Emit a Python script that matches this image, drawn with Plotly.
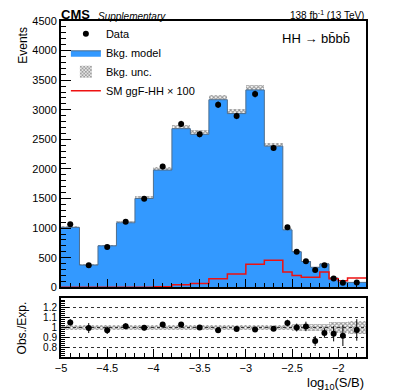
import plotly.graph_objects as go
from plotly.subplots import make_subplots

# bin edges in log10(S/B)
bin_edges = [-5.0, -4.8, -4.6, -4.4, -4.2, -4.0, -3.8, -3.6, -3.4, -3.2, -3.0,
             -2.8, -2.6, -2.5, -2.4, -2.3, -2.2, -2.1, -2.0, -1.9, -1.7]

bkg_model = [1012, 375, 700, 1090, 1500, 1980, 2680, 2585, 3170, 2935, 3335,
             2385, 970, 600, 435, 338, 394, 156, 85, 82]
bkg_rel_unc = [0.03, 0.03, 0.03, 0.028, 0.025, 0.025, 0.025, 0.025, 0.025, 0.025,
               0.025, 0.025, 0.03, 0.035, 0.035, 0.035, 0.035, 0.06, 0.06, 0.065]
data_obs = [1065, 373, 680, 1105, 1495, 2040, 2760, 2585, 3085, 2895, 3265,
            2355, 1015, 600, 440, 292, 372, 146, 78, 80]
data_err = [33, 19, 26, 33, 39, 45, 53, 51, 56, 54, 57, 49, 32, 24, 21, 17, 19, 12, 9, 9]
signal_x100 = [0, 0, 0, 0, 1, 8, 42, 65, 144, 222, 389, 456, 256, 200, 167, 167,
               256, 144, 111, 156]

FONT = "Liberation Sans"
BLUE = "#3399ff"

centers = [(lo + hi) / 2 for lo, hi in zip(bin_edges[:-1], bin_edges[1:])]
widths = [hi - lo for lo, hi in zip(bin_edges[:-1], bin_edges[1:])]
step_y = bkg_model + bkg_model[-1:]
sig_step = signal_x100 + signal_x100[-1:]
ratio = [d / b for d, b in zip(data_obs, bkg_model)]
ratio_err = [e / b for e, b in zip(data_err, bkg_model)]

fig = make_subplots(rows=2, cols=1, shared_xaxes=True, vertical_spacing=0.0,
                    row_heights=[0.79, 0.21])

hatch = dict(shape="x", fgcolor="#333333", bgcolor="rgba(0,0,0,0)", size=3,
             solidity=0.6, fillmode="overlay")

# --- top panel ---
fig.add_trace(go.Scatter(
    x=bin_edges, y=step_y, mode="lines", line=dict(shape="hv", color="#4f6f8f", width=1),
    fill="tozeroy", fillcolor=BLUE, name="Bkg. model", legendrank=2,
    legendgroup="b"), row=1, col=1)
fig.add_trace(go.Bar(
    x=centers, width=widths,
    base=[b * (1 - u) for b, u in zip(bkg_model, bkg_rel_unc)],
    y=[2 * b * u for b, u in zip(bkg_model, bkg_rel_unc)],
    marker=dict(color="rgba(0,0,0,0)", pattern=hatch, line=dict(width=0)),
    name="Bkg. unc.", legendrank=3, legendgroup="c"), row=1, col=1)
fig.add_trace(go.Scatter(
    x=bin_edges, y=sig_step, mode="lines", line=dict(shape="hv", color="#ee1111", width=1.5),
    name="SM ggF-HH × 100", legendrank=4, legendgroup="d"), row=1, col=1)
fig.add_trace(go.Scatter(
    x=centers, y=data_obs, mode="markers",
    marker=dict(color="black", size=6),
    error_y=dict(type="data", array=data_err, color="black", thickness=1, width=0),
    name="Data", legendrank=1, legendgroup="a"), row=1, col=1)

# --- ratio panel ---
fig.add_trace(go.Bar(
    x=centers, width=widths,
    base=[1 - u for u in bkg_rel_unc],
    y=[2 * u for u in bkg_rel_unc],
    marker=dict(color="rgba(0,0,0,0)", pattern=hatch, line=dict(width=0)),
    showlegend=False), row=2, col=1)
fig.add_trace(go.Scatter(
    x=centers, y=ratio, mode="markers",
    marker=dict(color="black", size=6),
    error_y=dict(type="data", array=ratio_err, color="black", thickness=1, width=0),
    showlegend=False), row=2, col=1)

axis_common = dict(showline=True, linecolor="black", linewidth=2, mirror=True,
                   ticks="inside", tickcolor="black", zeroline=False, showgrid=False,
                   tickfont=dict(family=FONT, size=11, color="black"))

fig.update_xaxes(range=[-5, -1.7], dtick=0.5, ticklen=8,
                 minor=dict(dtick=0.1, ticks="inside", ticklen=4, tickcolor="black",
                            showgrid=False),
                 **axis_common)
fig.update_xaxes(showticklabels=False, row=1, col=1)
fig.update_yaxes(range=[0, 4500], dtick=500, ticklen=10,
                 minor=dict(dtick=100, ticks="inside", ticklen=5, tickcolor="black",
                            showgrid=False),
                 row=1, col=1, **axis_common)
fig.update_yaxes(range=[0.7, 1.3], tickvals=[0.8, 0.9, 1.0, 1.1, 1.2],
                 ticktext=["0.8", "0.9", "1", "1.1", "1.2"], ticklen=8,
                 minor=dict(dtick=0.02, ticks="inside", ticklen=4, tickcolor="black",
                            showgrid=False),
                 row=2, col=1, **axis_common)
fig.update_yaxes(showgrid=True, gridcolor="#333333", griddash="dot", gridwidth=1,
                 tickfont=dict(size=10), row=2, col=1)

# the page body keeps an 8px margin at top/left, so the figure is shrunk by that
fig.update_layout(
    width=399, height=383,
    margin=dict(l=53, r=41, t=7, b=34),
    paper_bgcolor="white", plot_bgcolor="white",
    barmode="overlay", bargap=0,
    font=dict(family=FONT, color="black"),
    legend=dict(x=0.016, y=1.005, xanchor="left", yanchor="top",
                bgcolor="rgba(0,0,0,0)", font=dict(family=FONT, size=11),
                tracegroupgap=10, traceorder="normal"),
)
fig.update_layout(yaxis_domain=[0.2076, 1.0], yaxis2_domain=[0.0, 0.1754])

fig.add_annotation(text="<b>CMS</b>", x=0, y=1, xref="paper", yref="paper",
                   xanchor="left", yanchor="bottom", showarrow=False,
                   font=dict(family=FONT, size=13), yshift=-3, xshift=-2)
fig.add_annotation(text="<i>Supplementary</i>", x=0.115, y=1, xref="paper", yref="paper",
                   xanchor="left", yanchor="bottom", showarrow=False,
                   font=dict(family=FONT, size=10), yshift=-3)
fig.add_annotation(text="138 fb<sup>-1</sup> (13 TeV)", x=1, y=1, xref="paper", yref="paper",
                   xanchor="right", yanchor="bottom", showarrow=False,
                   font=dict(family=FONT, size=10), yshift=-2)
fig.add_annotation(text="HH → bb̄bb̄", x=0.955, y=0.975, xref="paper", yref="paper",
                   xanchor="right", yanchor="top", showarrow=False,
                   font=dict(family=FONT, size=13))
fig.add_annotation(text="Events", x=-0.125, y=0.99, xref="paper", yref="paper",
                   xanchor="center", yanchor="top", textangle=-90, showarrow=False,
                   font=dict(family=FONT, size=12))
fig.add_annotation(text="Obs./Exp.", x=-0.128, y=0.088, xref="paper", yref="paper",
                   xanchor="center", yanchor="middle", textangle=-90, showarrow=False,
                   font=dict(family=FONT, size=12))
fig.add_annotation(text="log<sub>10</sub>(S/B)", x=1, y=0, xref="paper", yref="paper",
                   xanchor="right", yanchor="top", showarrow=False, yshift=-16,
                   font=dict(family=FONT, size=13))

fig.write_html("out.html")
